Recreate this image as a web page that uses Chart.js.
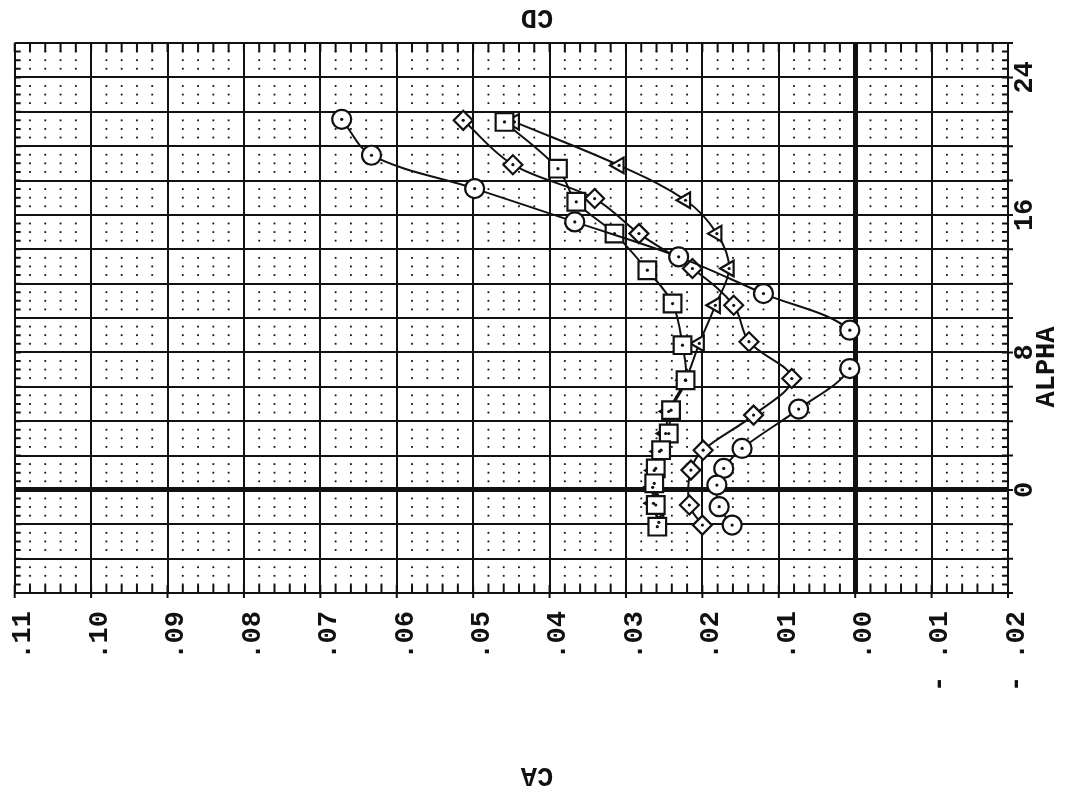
<!DOCTYPE html>
<html>
<head>
<meta charset="utf-8">
<script src="https://cdn.jsdelivr.net/npm/chart.js@4.4.1/dist/chart.umd.min.js"></script>
<style>
html,body{margin:0;padding:0;background:#fff;}
#wrap{position:relative;width:1070px;height:800px;}
</style>
</head>
<body>
<div id="wrap"><canvas id="c" width="1070" height="800"></canvas></div>
<script>
// ---- data (CA horizontal, ALPHA vertical) ----
const caTickValues = [0.11, 0.10, 0.09, 0.08, 0.07, 0.06, 0.05, 0.04, 0.03, 0.02, 0.01, 0.00, -0.01, -0.02];
const caTickLabels = ['.11', '.10', '.09', '.08', '.07', '.06', '.05', '.04', '.03', '.02', '.01', '.00', '- .01', '- .02'];
const alphaTickValues = [0, 8, 16, 24];
const alphaTickLabels = ['0', '8', '16', '24'];

const circleCA    = [0.0672, 0.0633, 0.0498, 0.0367, 0.0231, 0.0120, 0.0007, 0.0007, 0.0074, 0.0148, 0.0172, 0.0181, 0.0178, 0.0161];
const circleAlpha = [21.56, 19.47, 17.53, 15.59, 13.56, 11.42, 9.29, 7.06, 4.70, 2.41, 1.25, 0.28, -0.98, -2.05];

const diamondCA    = [0.0513, 0.0448, 0.0341, 0.0283, 0.0213, 0.0159, 0.0139, 0.0083, 0.0133, 0.0199, 0.0215, 0.0217, 0.0200];
const diamondAlpha = [21.50, 18.92, 16.95, 14.91, 12.88, 10.74, 8.62, 6.48, 4.35, 2.31, 1.15, -0.88, -2.05];

const squareCA    = [0.0459, 0.0389, 0.0365, 0.0315, 0.0272, 0.0239, 0.0226, 0.0222, 0.0241, 0.0244, 0.0254, 0.0261, 0.0263, 0.0261, 0.0259];
const squareAlpha = [21.41, 18.69, 16.76, 14.91, 12.78, 10.84, 8.42, 6.38, 4.64, 3.28, 2.31, 1.25, 0.38, -0.88, -2.14];

const triangleCA    = [0.0446, 0.0309, 0.0222, 0.0181, 0.0165, 0.0183, 0.0204, 0.0222, 0.0244, 0.0248, 0.0256, 0.0263, 0.0265, 0.0264, 0.0257];
const triangleAlpha = [21.41, 18.88, 16.85, 14.91, 12.88, 10.74, 8.52, 6.38, 4.56, 3.28, 2.24, 1.13, 0.15, -0.78, -1.89];

const axisTitles = { top: 'CD', bottom: 'CA', right: 'ALPHA' };

// ---- helpers ----
function pts(xs, ys) { return xs.map((x, i) => ({ x: x, y: ys[i] })); }
const INK = '#111';
const FONT = 'bold 27px "Liberation Mono", "DejaVu Sans Mono", monospace';

function mkSet(label, xs, ys, style, radius, rot) {
  return {
    label: label,
    data: pts(xs, ys),
    showLine: true,
    tension: 0.35,
    borderColor: INK,
    borderWidth: 2,
    pointStyle: style,
    pointRadius: radius,
    pointRotation: rot || 0,
    pointBackgroundColor: '#fff',
    pointBorderColor: INK,
    pointBorderWidth: 2.2,
    pointHoverRadius: radius
  };
}

const isZero = v => Math.abs(v) < 1e-9;

const decor = {
  id: 'decor',
  beforeDatasetsDraw(chart) {
    const { ctx, chartArea: a, scales: { x, y } } = chart;
    ctx.save();
    ctx.fillStyle = INK;
    // minor dotted grid
    for (let i = 0; i <= 65; i++) {
      if (i % 5 === 0) continue;
      const px = x.getPixelForValue(-0.02 + i * 0.002);
      for (let j = 0; j <= 64; j++) {
        if (j % 4 === 0) continue;
        const py = y.getPixelForValue(-6 + j * 0.5);
        ctx.fillRect(px - 0.9, py - 0.9, 1.8, 1.8);
      }
    }
    // border tick marks
    ctx.strokeStyle = INK;
    ctx.lineWidth = 2;
    ctx.beginPath();
    for (let i = 0; i <= 65; i++) {
      const px = x.getPixelForValue(-0.02 + i * 0.002);
      const major = i % 5 === 0;
      ctx.moveTo(px, a.bottom + (major ? 5 : 0));
      ctx.lineTo(px, a.bottom - 8);
      ctx.moveTo(px, a.top);
      ctx.lineTo(px, a.top + 9);
    }
    for (let j = 0; j <= 64; j++) {
      const py = y.getPixelForValue(-6 + j * 0.5);
      const major = j % 4 === 0;
      ctx.moveTo(a.left, py);
      ctx.lineTo(a.left + 6, py);
      ctx.moveTo(a.right + (major ? 5 : 0), py);
      ctx.lineTo(a.right - 6, py);
    }
    ctx.stroke();
    ctx.restore();
  },
  afterDatasetsDraw(chart) {
    const { ctx } = chart;
    ctx.save();
    ctx.fillStyle = INK;
    chart.data.datasets.forEach((ds, i) => {
      chart.getDatasetMeta(i).data.forEach(el => {
        ctx.beginPath();
        ctx.arc(el.x, el.y, 1.6, 0, Math.PI * 2);
        ctx.fill();
      });
    });
    ctx.restore();
  },
  afterDraw(chart) {
    const { ctx, chartArea: a, scales: { x, y } } = chart;
    ctx.save();
    ctx.fillStyle = INK;
    ctx.font = FONT;
    caTickValues.forEach((v, i) => {
      const px = x.getPixelForValue(v) + 9;
      ctx.save();
      ctx.translate(px, a.bottom + 18);
      ctx.rotate(-Math.PI / 2);
      ctx.textAlign = 'right';
      ctx.textBaseline = 'middle';
      ctx.fillText(caTickLabels[i], 0, 0);
      ctx.restore();
    });
    alphaTickValues.forEach((v, i) => {
      const py = y.getPixelForValue(v);
      ctx.save();
      ctx.translate(a.right + 17, py);
      ctx.rotate(-Math.PI / 2);
      ctx.textAlign = 'center';
      ctx.textBaseline = 'middle';
      ctx.fillText(alphaTickLabels[i], 0, 0);
      ctx.restore();
    });
    ctx.textAlign = 'center';
    ctx.textBaseline = 'middle';
    ctx.save();
    ctx.translate(1047, 367);
    ctx.rotate(-Math.PI / 2);
    ctx.fillText(axisTitles.right, 0, 0);
    ctx.restore();
    ctx.save();
    ctx.translate(537, 17);
    ctx.rotate(Math.PI);
    ctx.fillText(axisTitles.top, 0, 0);
    ctx.restore();
    ctx.save();
    ctx.translate(537, 775);
    ctx.rotate(Math.PI);
    ctx.fillText(axisTitles.bottom, 0, 0);
    ctx.restore();
    ctx.restore();
  }
};

new Chart(document.getElementById('c'), {
  type: 'scatter',
  data: {
    datasets: [
      mkSet('circle', circleCA, circleAlpha, 'circle', 9.5),
      mkSet('square', squareCA, squareAlpha, 'rect', 12.5),
      mkSet('diamond', diamondCA, diamondAlpha, 'rectRot', 9.5),
      mkSet('triangle', triangleCA, triangleAlpha, 'triangle', 9, -90)
    ]
  },
  options: {
    responsive: false,
    animation: false,
    devicePixelRatio: 1,
    layout: { padding: { left: 11, top: 43, right: 62, bottom: 207 } },
    plugins: { legend: { display: false }, tooltip: { enabled: false }, title: { display: false } },
    scales: {
      x: {
        type: 'linear',
        position: 'bottom',
        reverse: true,
        min: -0.02,
        max: 0.11,
        ticks: { display: false, stepSize: 0.01 },
        grid: {
          drawTicks: false,
          color: INK,
          lineWidth: c => isZero(c.tick.value) ? 5 : 2
        },
        border: { display: true, color: INK, width: 2 },
        afterFit(s) { s.height = 0; s.paddingLeft = 0; s.paddingRight = 0; }
      },
      y: {
        type: 'linear',
        position: 'right',
        min: -6,
        max: 26,
        ticks: { display: false, stepSize: 2 },
        grid: {
          drawTicks: false,
          color: INK,
          lineWidth: c => isZero(c.tick.value) ? 5 : 2
        },
        border: { display: true, color: INK, width: 2 },
        afterFit(s) { s.width = 0; s.paddingTop = 0; s.paddingBottom = 0; }
      }
    }
  },
  plugins: [decor]
});
</script>
</body>
</html>
